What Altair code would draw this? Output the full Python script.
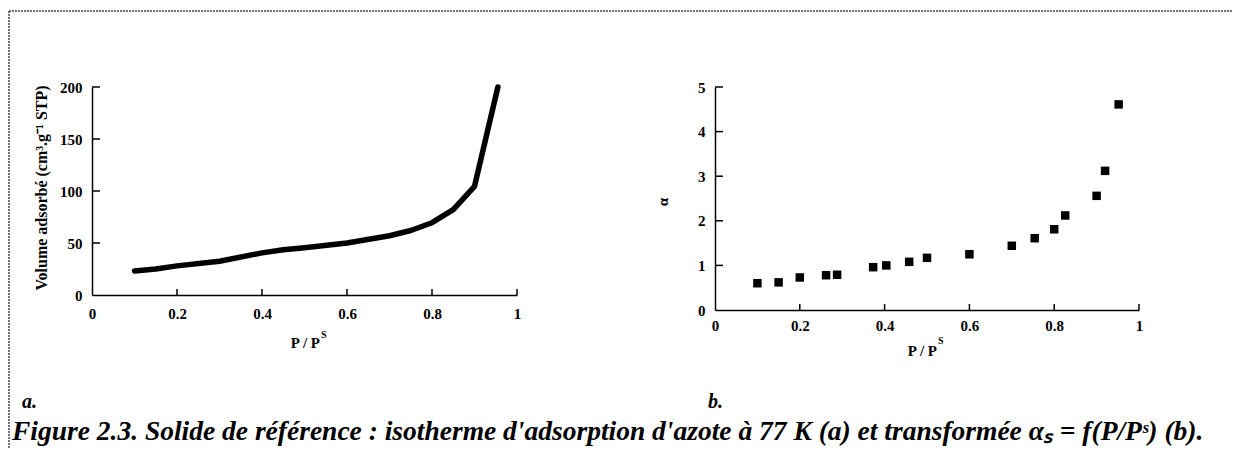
import altair as alt
import pandas as pd

# ---- data ----
iso_p = [0.10, 0.15, 0.20, 0.30, 0.40, 0.45, 0.50, 0.60, 0.70, 0.75, 0.80, 0.85, 0.90, 0.955]
iso_v = [23, 25, 28, 32.5, 40.5, 43.5, 45.5, 50, 57, 62, 69.5, 82, 104.5, 200]

alpha_p = [0.10, 0.15, 0.20, 0.262, 0.288, 0.373, 0.404, 0.458, 0.50, 0.60,
           0.70, 0.754, 0.80, 0.826, 0.90, 0.92, 0.952]
alpha_v = [0.60, 0.62, 0.73, 0.78, 0.79, 0.96, 1.00, 1.08, 1.17, 1.25,
           1.44, 1.61, 1.81, 2.12, 2.56, 3.12, 4.61]

x_labels = [0, 0.2, 0.4, 0.6, 0.8, 1]
x_inner_ticks = [0.2, 0.4, 0.6, 0.8, 1]
ya_labels = [0, 50, 100, 150, 200]
ya_inner_ticks = [50, 100, 150, 200]
yb_labels = [0, 1, 2, 3, 4, 5]
yb_inner_ticks = [1, 2, 3, 4, 5]

title_a_y = "Volume adsorbé (cm³.g⁻¹ STP)"
title_x_main = "P / P"
title_x_sup = "S"
title_b_y = "α"
label_a = "a."
label_b = "b."
caption = "Figure 2.3. Solide de référence : isotherme d'adsorption d'azote à 77 K (a) et transformée αₛ = f(P/Pˢ) (b)."

FONT = "Liberation Serif"
WA, HA = 425, 208
WB, HB = 424, 223

iso_df = pd.DataFrame({"p": iso_p, "v": iso_v})
alpha_df = pd.DataFrame({"p": alpha_p, "v": alpha_v})


def axis_x(pad):
    return alt.Axis(values=x_labels, format="~g", ticks=False, tickSize=0, grid=False,
                    domain=True, domainColor="black", domainWidth=1.5,
                    labelFont=FONT, labelFontWeight="bold", labelFontSize=15,
                    labelColor="black", labelPadding=pad, labelFlush=False, title=None)


def axis_y(values, pad):
    return alt.Axis(values=values, format="d", ticks=False, tickSize=0, grid=False,
                    domain=True, domainColor="black", domainWidth=1.5,
                    labelFont=FONT, labelFontWeight="bold", labelFontSize=15,
                    labelColor="black", labelPadding=pad, title=None)


def text_layer(txt, x, y, size, angle=0, align="center", italic=False, weight="bold"):
    return alt.Chart(pd.DataFrame({"t": [txt]})).mark_text(
        font=FONT, fontSize=size, fontWeight=weight,
        fontStyle="italic" if italic else "normal",
        align=align, baseline="middle", angle=angle, color="black"
    ).encode(text="t:N", x=alt.value(x), y=alt.value(y))


# ---------------- panel a ----------------
xa = alt.X("p:Q", scale=alt.Scale(domain=[0, 1], nice=False, zero=False), axis=axis_x(11))
ya = alt.Y("v:Q", scale=alt.Scale(domain=[0, 200], nice=False), axis=axis_y(ya_labels, 10))

line_a = alt.Chart(iso_df).mark_line(color="black", strokeWidth=5.5, strokeCap="round",
                                     strokeJoin="round", clip=False).encode(x=xa, y=ya)

ytick_a = alt.Chart(pd.DataFrame({"v": ya_inner_ticks})).mark_rule(
    color="black", strokeWidth=1.5).encode(y="v:Q", x=alt.value(0), x2=alt.value(8))
xtick_a = alt.Chart(pd.DataFrame({"p": x_inner_ticks})).mark_rule(
    color="black", strokeWidth=1.5).encode(x="p:Q", y=alt.value(HA), y2=alt.value(HA - 6))

frame_top = alt.Chart(pd.DataFrame({"k": [0]})).mark_rule(
    color="#444", strokeWidth=1.5, strokeDash=[2, 1]).encode(
    x=alt.value(-83), x2=alt.value(1140), y=alt.value(-76))
frame_left = alt.Chart(pd.DataFrame({"k": [0]})).mark_rule(
    color="#444", strokeWidth=1.5, strokeDash=[2, 1]).encode(
    x=alt.value(-83), y=alt.value(-76), y2=alt.value(362))

panel_a = alt.layer(
    frame_top, frame_left,
    line_a, ytick_a, xtick_a,
    text_layer(title_a_y, -50, 101, 16, angle=270),
    text_layer(title_x_main, 228, 256, 15, align="right"),
    text_layer(title_x_sup, 229, 248, 10, align="left"),
    text_layer(label_a, -70, 315, 20, align="left", italic=True),
    text_layer(caption, -80, 345, 27.5, align="left", italic=True),
).properties(width=WA, height=HA)

# ---------------- panel b ----------------
xb = alt.X("p:Q", scale=alt.Scale(domain=[0, 1], nice=False, zero=False), axis=axis_x(8))
yb = alt.Y("v:Q", scale=alt.Scale(domain=[0, 5], nice=False), axis=axis_y(yb_labels, 10))

pts_b = alt.Chart(alpha_df).mark_square(color="black", size=72, opacity=1).encode(x=xb, y=yb)
ytick_b = alt.Chart(pd.DataFrame({"v": yb_inner_ticks})).mark_rule(
    color="black", strokeWidth=1.5).encode(y="v:Q", x=alt.value(0), x2=alt.value(8))
xtick_b = alt.Chart(pd.DataFrame({"p": x_inner_ticks})).mark_rule(
    color="black", strokeWidth=1.5).encode(x="p:Q", y=alt.value(HB), y2=alt.value(HB - 6))

panel_b = alt.layer(
    pts_b, ytick_b, xtick_b,
    text_layer(title_b_y, -52, 115, 15, angle=270),
    text_layer(title_x_main, 222, 264, 15, align="right"),
    text_layer(title_x_sup, 223, 254, 10, align="left"),
    text_layer(label_b, -7, 315, 20, align="left", italic=True),
).properties(width=WB, height=HB)

chart = alt.hconcat(panel_a, panel_b, spacing=198, bounds="flush").properties(
    padding={"left": 0, "top": 2, "right": 0, "bottom": 0},
    background="white",
).configure_view(stroke=None)

chart.save("out.html", embed_options={"renderer": "svg", "actions": False})
